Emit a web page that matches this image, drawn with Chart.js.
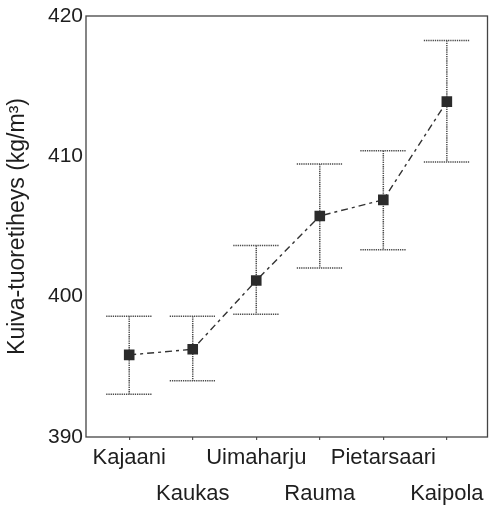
<!DOCTYPE html>
<html>
<head>
<meta charset="utf-8">
<script src="https://cdn.jsdelivr.net/npm/chart.js@4/dist/chart.umd.min.js"></script>
<style>
  html, body { margin: 0; padding: 0; background: #ffffff; }
  #wrap { width: 495px; height: 508px; position: relative; }
</style>
</head>
<body>
<div id="wrap"><canvas id="c" width="495" height="508"></canvas></div>
<script>
const categories = ['Kajaani', 'Kaukas', 'Uimaharju', 'Rauma', 'Pietarsaari', 'Kaipola'];
const means = [395.85, 396.25, 401.15, 405.75, 406.9, 413.9];
const upper = [398.6, 398.6, 403.65, 409.45, 410.4, 418.25];
const lower = [393.05, 394.0, 398.75, 402.05, 403.35, 409.6];
const yTicks = [390, 400, 410, 420];

const FONT = 'Liberation Sans, Arial, Helvetica, sans-serif';
const TEXT = '#1e1e1e';

const errorBars = {
  id: 'errorBars',
  beforeDatasetsDraw(chart) {
    const ctx = chart.ctx;
    const xs = chart.scales.x, ys = chart.scales.y;
    const half = 23;
    ctx.save();
    ctx.strokeStyle = '#4a4a4a';
    ctx.lineWidth = 1.5;
    ctx.setLineDash([1.3, 0.9]);
    categories.forEach((c, i) => {
      const x = xs.getPixelForValue(i);
      const yt = ys.getPixelForValue(upper[i]);
      const yb = ys.getPixelForValue(lower[i]);
      ctx.beginPath();
      ctx.moveTo(x, yt); ctx.lineTo(x, yb);
      ctx.moveTo(x - half, yt); ctx.lineTo(x + half, yt);
      ctx.moveTo(x - half, yb); ctx.lineTo(x + half, yb);
      ctx.stroke();
    });
    ctx.restore();
  }
};

const frame = {
  id: 'frame',
  afterDraw(chart) {
    const {left, top, right, bottom} = chart.chartArea;
    const ctx = chart.ctx;
    ctx.save();
    ctx.strokeStyle = '#444444';
    ctx.lineWidth = 1.3;
    ctx.strokeRect(left, top, right - left, bottom - top);
    ctx.restore();
  }
};

new Chart(document.getElementById('c'), {
  type: 'line',
  data: {
    datasets: [{
      data: means.map((v, i) => ({x: i, y: v})),
      borderColor: '#333333',
      borderWidth: 1.4,
      borderDash: [7, 4, 3, 4],
      pointStyle: 'rect',
      pointRadius: 7.5,
      pointBackgroundColor: '#2b2b2b',
      pointBorderColor: '#2b2b2b',
      pointBorderWidth: 0,
      tension: 0,
      fill: false
    }]
  },
  options: {
    responsive: false,
    animation: false,
    events: [],
    layout: { padding: { top: 16, right: 2, left: 0, bottom: 0 } },
    plugins: { legend: { display: false }, tooltip: { enabled: false } },
    scales: {
      x: {
        type: 'linear',
        min: -0.68,
        max: 5.64,
        afterBuildTicks(scale) { scale.ticks = categories.map((c, i) => ({value: i})); },
        afterFit(scale) { scale.height = 71; },
        grid: { drawOnChartArea: false, drawTicks: true, tickLength: 3, color: '#555555', lineWidth: 1.2 },
        border: { display: false },
        ticks: {
          autoSkip: false,
          maxRotation: 0,
          padding: 0,
          color: TEXT,
          font: { family: FONT, size: 22, lineHeight: 1.64 },
          callback(v) {
            const i = Math.round(v);
            const name = categories[i] || '';
            return i % 2 === 0 ? [name] : ['', name];
          }
        }
      },
      y: {
        min: 390,
        max: 420,
        afterBuildTicks(scale) { scale.ticks = yTicks.map(v => ({value: v})); },
        afterFit(scale) { scale.width = 86; },
        grid: { display: false, drawTicks: false },
        border: { display: false },
        ticks: {
          padding: 3,
          color: TEXT,
          font: { family: FONT, size: 21 }
        },
        title: {
          display: true,
          text: 'Kuiva-tuoretiheys (kg/m³)',
          color: TEXT,
          font: { family: FONT, size: 23, lineHeight: 1.2 },
          padding: { top: 4, bottom: 0 }
        }
      }
    }
  },
  plugins: [errorBars, frame]
});
</script>
</body>
</html>
